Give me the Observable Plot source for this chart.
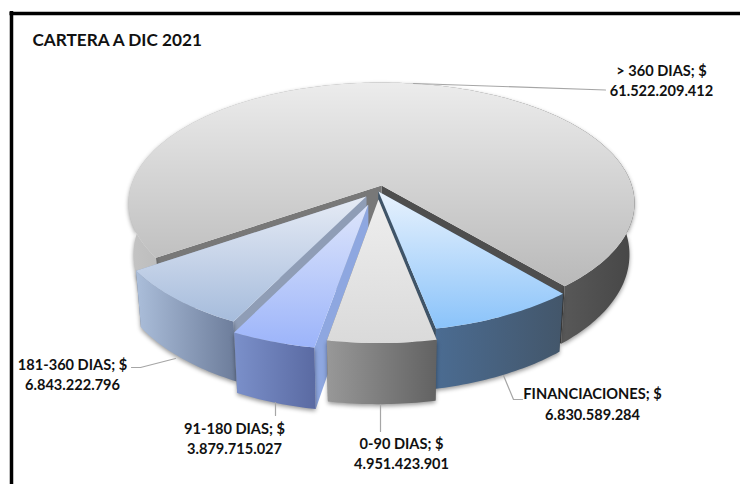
<!DOCTYPE html>
<html>
<head>
<meta charset="utf-8">
<script src="https://cdn.jsdelivr.net/npm/d3@7"></script>
<script src="https://cdn.jsdelivr.net/npm/@observablehq/plot@0.6"></script>
<style>
html,body{margin:0;padding:0;background:#fff}
svg{display:block}
</style>
</head>
<body>
<div id="chart"></div>
<script>
// ---- chart values
const title = "CARTERA A DIC 2021";
const categories = ["> 360 DIAS", "FINANCIACIONES", "0-90 DIAS", "91-180 DIAS", "181-360 DIAS"];
const amounts = [61522209412, 6830589284, 4951423901, 3879715027, 6843222796];

// ---- 3D pie projection settings (pie radius = 1)
const startDegrees = 235.8;
const explodeX = [0, -0.012, -0.012, -0.052, -0.06];
const explodeZ = [0, -0.05, -0.117, -0.159, -0.092];
const drawOrder = [0, 4, 3, 1, 2];
const centre = [381, 185], radiusX = 250.3, radiusY = 118, perspective = 0.146;

// ---- face colours
const topStops = [["#ececec", "#b9b9b9"], ["#e8f2fd", "#8ac3fa"], ["#eeeeee", "#dadada"], ["#dde5fb", "#9cb4fa"], ["#e6ebf5", "#a6bcdc"]];
const wallStops = [["#c4c4c4", "#464646"], ["#4b6c92", "#43566a"], ["#989898", "#626262"], ["#7b90ca", "#5a6aa2"], ["#abbeda", "#6c7c9a"]];
const sideStart = ["#787878", "#3f5468", "#777777", "#8ea7e0", "#8f9db6"];
const sideEnd = ["#4e4e4e", "#3f5468", "#777777", "#8f9db6", "#8f9db6"];

// ---- label layout
const labelX = [661, 592, 401, 234, 72];
const labelY = [79, 402.5, 452, 437, 373];
const leaders = [
  [[413, 83], [605, 89.5]],
  [[503, 375], [513, 399], [522, 399]],
  [[380, 404], [380, 431]],
  [[275, 402], [275, 415]],
  [[175, 358], [140, 367], [131, 367]]
];

// ---- geometry derived from the values
const amountText = d3.formatLocale({decimal: ",", thousands: ".", grouping: [3], currency: ["$", ""]}).format(",d");
const total = d3.sum(amounts);
const rad = d => d * Math.PI / 180;
function project(X, Z) {
  const d = 1 + perspective * Z;
  return {x: centre[0] + radiusX * X / d, y: centre[1] - radiusY * Z / d, Z};
}
function below(p) {
  return {x: centre[0] + 0.98 * (p.x - centre[0]), y: p.y + 50 - 10 * p.Z};
}
let running = startDegrees;
const slices = amounts.map((v, i) => {
  const a0 = running, a1 = running + v / total * 360;
  running = a1;
  const arc = d3.range(0, 1.0001, 1 / Math.max(8, Math.ceil(a1 - a0))).map(t => {
    const a = rad(a0 + (a1 - a0) * t);
    return project(Math.sin(a) + explodeX[i], Math.cos(a) + explodeZ[i]);
  });
  const apex = project(explodeX[i], explodeZ[i]);
  const wallBottom = arc.map(below).reverse();
  return {
    i,
    top: [apex, ...arc],
    wall: [...arc, ...wallBottom],
    sideA: [apex, arc[0], below(arc[0]), below(apex)],
    sideB: [apex, arc[arc.length - 1], below(arc[arc.length - 1]), below(apex)]
  };
});

const face = (pts, fill, extra = {}) =>
  Plot.line(pts, {x: "x", y: "y", fill, stroke: "none", curve: "linear-closed", ...extra});

function gradients() {
  const defs = d3.create("svg:defs");
  const add = (id, stops, vertical) => {
    const g = defs.append("linearGradient").attr("id", id)
      .attr("x1", 0).attr("y1", 0).attr("x2", vertical ? 0 : 1).attr("y2", vertical ? 1 : 0);
    g.append("stop").attr("offset", 0).attr("stop-color", stops[0]);
    g.append("stop").attr("offset", 1).attr("stop-color", stops[1]);
  };
  topStops.forEach((s, i) => add("top" + i, s, true));
  wallStops.forEach((s, i) => add("wall" + i, s, false));
  return defs.node();
}

const pieMarks = drawOrder.flatMap(i => {
  const s = slices[i];
  return [
    face(s.sideB, sideEnd[i]),
    face(s.sideA, sideStart[i]),
    face(s.wall, `url(#wall${i})`, {imageFilter: "drop-shadow(0px 2px 2px rgba(0,0,0,0.4))"}),
    face(s.top, `url(#top${i})`)
  ];
});

const labelRows = categories.map((c, i) => ({
  text: `${c}; $\n${amountText(amounts[i])}`, x: labelX[i], y: labelY[i]
}));

const leaderRows = leaders.flatMap((pts, i) => pts.map(p => ({i, x: p[0], y: p[1]})));

const chart = Plot.plot({
  width: 740,
  height: 484,
  margin: 0,
  style: {background: "#fff", fontFamily: "Lato, 'Open Sans', sans-serif"},
  x: {axis: null, domain: [0, 740], range: [0, 740]},
  y: {axis: null, domain: [0, 484], range: [0, 484]},
  marks: [
    gradients,
    Plot.ruleY([13], {x1: 9.5, x2: 740, stroke: "#000", strokeWidth: 3.5}),
    Plot.ruleX([11], {y1: 11, y2: 484, stroke: "#000", strokeWidth: 3.5}),
    ...pieMarks,
    Plot.line(leaderRows, {x: "x", y: "y", z: "i", stroke: "#a6a6a6", strokeWidth: 1.2}),
    Plot.text([title], {x: () => 32, y: () => 40, textAnchor: "start", fontSize: 17.2, fontWeight: 700, fill: "#111"}),
    Plot.text(labelRows, {x: "x", y: "y", text: "text", fontSize: 14.6, fontWeight: 700, fill: "#111", lineHeight: 1.4})
  ]
});
document.getElementById("chart").appendChild(chart);
</script>
</body>
</html>
